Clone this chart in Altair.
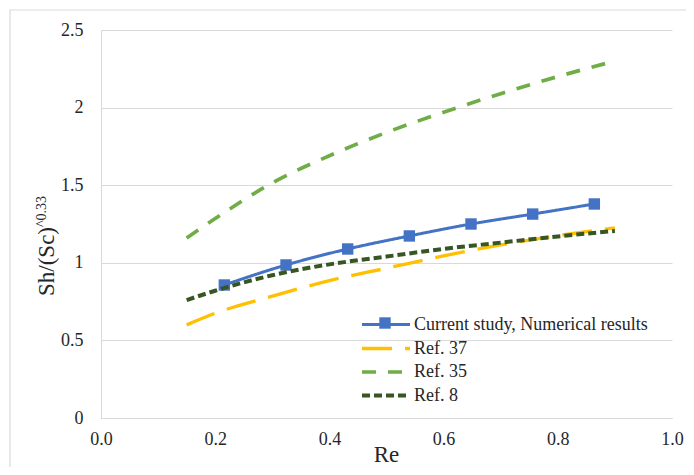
import altair as alt
import pandas as pd

# ---- data ----
series_names = ["Current study, Numerical results", "Ref. 37", "Ref. 35", "Ref. 8"]

re_study = [0.216, 0.324, 0.432, 0.540, 0.648, 0.756, 0.864]
sh_study = [0.857, 0.986, 1.089, 1.173, 1.250, 1.314, 1.379]

re_ref = [0.15, 0.20, 0.30, 0.40, 0.50, 0.60, 0.70, 0.80, 0.90]
sh_ref37 = [0.600, 0.675, 0.785, 0.885, 0.965, 1.045, 1.115, 1.175, 1.225]
sh_ref35 = [1.160, 1.285, 1.515, 1.690, 1.840, 1.970, 2.090, 2.200, 2.300]
sh_ref8 = [0.760, 0.820, 0.920, 0.990, 1.040, 1.090, 1.130, 1.170, 1.205]

x_ticks = [0.0, 0.2, 0.4, 0.6, 0.8, 1.0]
y_ticks = [0, 0.5, 1, 1.5, 2, 2.5]

y_title_main = "Sh/(Sc)"
y_title_sup = "^0.33"
x_title = "Re"

# ---- styles ----
colors = ["#4472C4", "#FFC000", "#70AD47", "#375623"]
dashes = [[1, 0], [30, 13], [14, 12], [8, 4]]
widths = [3, 4, 4, 4]
FONT = "Liberation Serif"
GRID = "#d9d9d9"
TXT = "#262626"

rows = []
for r, v in zip(re_study, sh_study):
    rows.append({"series": series_names[0], "Re": r, "val": v})
for name, vals in zip(series_names[1:], [sh_ref37, sh_ref35, sh_ref8]):
    for r, v in zip(re_ref, vals):
        rows.append({"series": name, "Re": r, "val": v})
df = pd.DataFrame(rows)
df_study = df[df["series"] == series_names[0]]

x_enc = alt.X("Re:Q", scale=alt.Scale(domain=[0, 1], nice=False),
              axis=alt.Axis(values=x_ticks, format=".1f", grid=False, ticks=False,
                            domainColor=GRID, labelPadding=12, title=None, labelFlush=False,
                            labelFont=FONT, labelFontSize=18, labelColor=TXT))
y_enc = alt.Y("val:Q", scale=alt.Scale(domain=[0, 2.5], nice=False),
              axis=alt.Axis(values=y_ticks, format="~g", grid=True, gridColor=GRID, ticks=False,
                            domainColor=GRID, labelPadding=18, title=None, labelFlush=False,
                            labelFont=FONT, labelFontSize=18, labelColor=TXT))

leg = alt.Legend(title=None, orient="none", legendX=271, legendY=281,
                 symbolType="M-2,0H2", symbolSize=576, labelFont=FONT,
                 labelFontSize=18, labelColor=TXT, rowPadding=0.5, labelOffset=14,
                 padding=0, labelLimit=400)

points = alt.Chart(df_study).mark_point(filled=True, opacity=1, size=130).encode(
    x=x_enc, y=y_enc,
    color=alt.value(colors[0]),
    shape=alt.Shape("series:N", scale=alt.Scale(domain=[series_names[0]], range=["square"]),
                    legend=alt.Legend(title=None, orient="none", legendX=278, legendY=287,
                                      symbolSize=130, symbolFillColor=colors[0],
                                      symbolStrokeColor=colors[0], symbolStrokeWidth=0,
                                      labelExpr="''", labelFontSize=1, padding=0,
                                      labelOffset=0)),
)

lines = alt.Chart(df).mark_line(interpolate="monotone", strokeCap="butt").encode(
    x=x_enc, y=y_enc,
    color=alt.Color("series:N", scale=alt.Scale(domain=series_names, range=colors), legend=leg),
    strokeDash=alt.StrokeDash("series:N", scale=alt.Scale(domain=series_names, range=dashes), legend=leg),
    strokeWidth=alt.StrokeWidth("series:N", scale=alt.Scale(domain=series_names, range=widths), legend=leg),
)

border = alt.Chart(pd.DataFrame({"k": [0]})).mark_rect(
    fill=None, stroke=GRID, strokeWidth=1.2).encode(
    x=alt.value(-91), x2=alt.value(700), y=alt.value(-20), y2=alt.value(700))

ytitle = alt.Chart(pd.DataFrame({"t": [y_title_main]})).mark_text(
    angle=270, align="left", baseline="alphabetic", font=FONT, fontSize=23, color=TXT
).encode(text="t:N", x=alt.value(-47), y=alt.value(266))

ysup = alt.Chart(pd.DataFrame({"t": [y_title_sup]})).mark_text(
    angle=270, align="left", baseline="alphabetic", font=FONT, fontSize=14, color=TXT
).encode(text="t:N", x=alt.value(-55), y=alt.value(197))

xtitle = alt.Chart(pd.DataFrame({"t": [x_title]})).mark_text(
    align="center", baseline="alphabetic", font=FONT, fontSize=23, color=TXT
).encode(text="t:N", x=alt.value(285.5), y=alt.value(432))

chart = alt.layer(border, points, lines, ytitle, ysup, xtitle).properties(
    width=571, height=388,
    autosize=alt.AutoSizeParams(type="none"),
    padding={"left": 93, "top": 22, "right": 14, "bottom": 49},
).configure_view(strokeWidth=0).configure_axis(
    labelFont=FONT, labelFontSize=18, labelColor=TXT, domainWidth=1, gridWidth=1
).configure_text(font=FONT)

chart.save("out.html", embed_options={"renderer": "svg", "actions": False})
